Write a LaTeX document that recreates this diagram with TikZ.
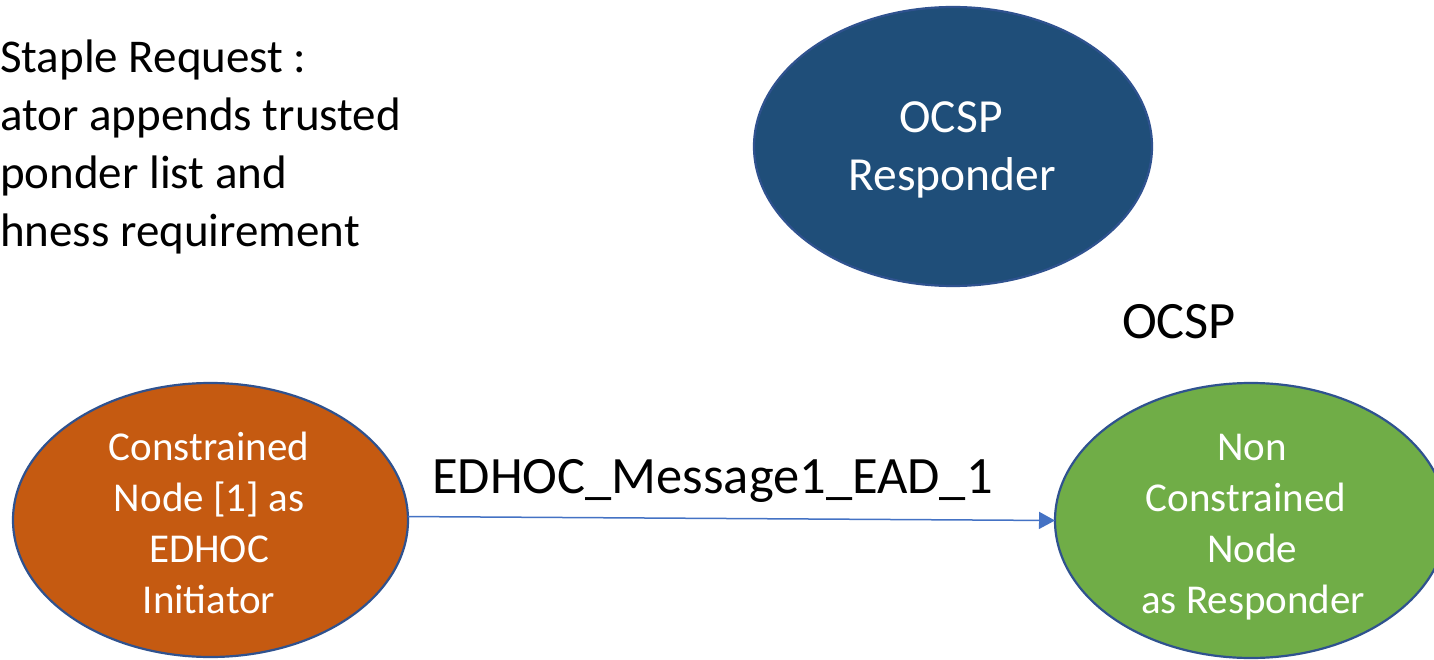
\documentclass[tikz,border=0pt]{standalone}
\usepackage{fontspec}
\setmainfont{Carlito}
\usetikzlibrary{shapes.geometric,arrows.meta}
\definecolor{ocspblue}{HTML}{1F4E79}
\definecolor{edgeblue}{HTML}{2F528F}
\definecolor{initorange}{HTML}{C55A11}
\definecolor{respgreen}{HTML}{70AD47}
\definecolor{arrowblue}{HTML}{4472C4}
\tikzset{
  blob/.style={ellipse, draw=edgeblue, line width=2.2pt, inner sep=0pt, outer sep=0pt},
  intext/.style={text=white, align=center, inner sep=0pt, font=\fontsize{41}{51}\selectfont},
  bigtext/.style={text=white, align=center, inner sep=0pt, font=\fontsize{47.5}{58}\selectfont},
  note/.style={text=black, inner sep=0pt, anchor=base west, font=\fontsize{47}{58}\selectfont},
  msg/.style={text=black, inner sep=0pt, anchor=base, font=\fontsize{52.5}{60}\selectfont},
  flow/.style={draw=arrowblue, line width=1.5pt, -{Triangle[length=16pt,width=17pt]}}
}
\begin{document}
\begin{tikzpicture}[x=1pt,y=-1pt]
\useasboundingbox (0,0) rectangle (1434,660);
\clip (0,0) rectangle (1434,660);
\fill[white] (0,0) rectangle (1434,660);
% top-left note
\node[note] (n1) at (0,73) {Staple Request :};
\node[note] (n2) at (0,131) {ator appends trusted};
\node[note] (n3) at (0,189) {ponder list and};
\node[note] (n4) at (0,247) {hness requirement};
% OCSP responder
\node[blob, fill=ocspblue, minimum width=398pt, minimum height=279pt] (resp) at (953,146.5) {};
\node[bigtext, anchor=base] (resp1) at (951,133) {OCSP};
\node[bigtext, anchor=base] (resp2) at (952,191) {Responder};
% label OCSP
\node[msg] (ocsp) at (1179,338) {OCSP};
% initiator
\node[blob, fill=initorange, minimum width=395pt, minimum height=274pt] (init) at (210.5,520) {};
\node[intext, anchor=base] (i1) at (209,460) {Constrained};
\node[intext, anchor=base] (i2) at (209,511) {Node [1] as};
\node[intext, anchor=base] (i3) at (209,562) {EDHOC};
\node[intext, anchor=base] (i4) at (209,613) {Initiator};
% responder node
\node[blob, fill=respgreen, minimum width=392pt, minimum height=275pt] (nc) at (1251,520.5) {};
\node[intext, anchor=base] (g1) at (1252,460) {Non};
\node[intext, anchor=base] (g2) at (1246,511) {Constrained};
\node[intext, anchor=base] (g3) at (1252,562) {Node};
\node[intext, anchor=base] (g4) at (1253,613) {as Responder};
% message arrow
\draw[flow] (init.1) -- (nc.180.7);
\node[msg] (m) at (712.5,493) {EDHOC\_Message1\_EAD\_1};
\end{tikzpicture}
\end{document}
